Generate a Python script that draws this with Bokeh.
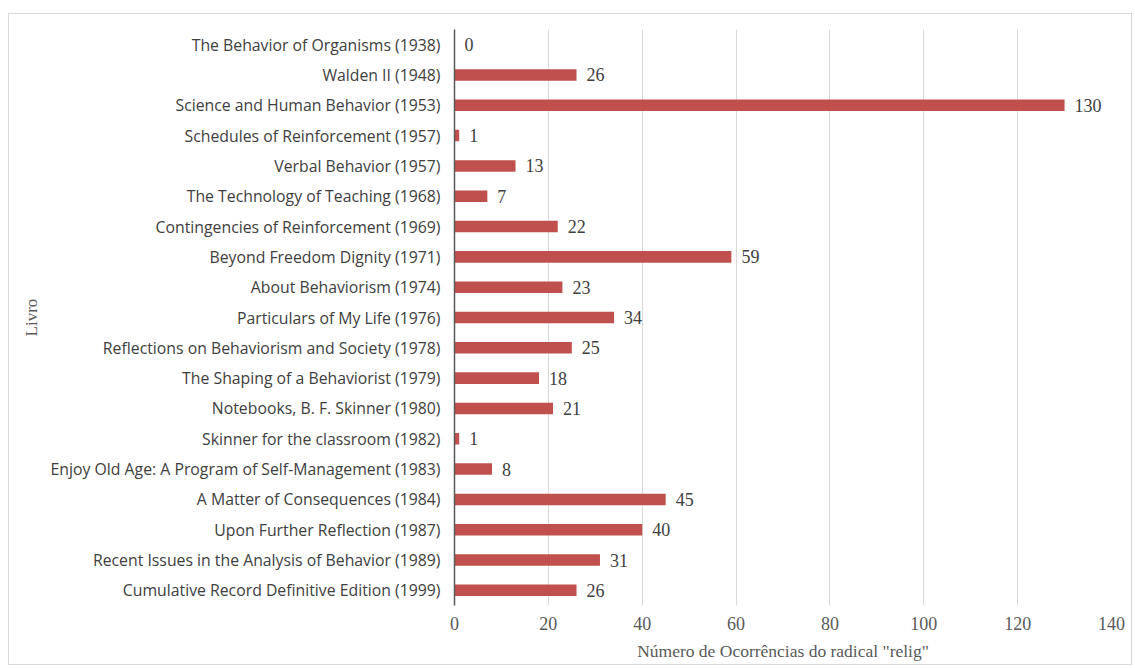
from bokeh.plotting import figure
from bokeh.models import ColumnDataSource, FactorRange, Range1d, FixedTicker
from bokeh.embed import file_html
from bokeh.resources import INLINE

books = [
    "The Behavior of Organisms (1938)",
    "Walden II (1948)",
    "Science and Human Behavior (1953)",
    "Schedules of Reinforcement (1957)",
    "Verbal Behavior (1957)",
    "The Technology of Teaching (1968)",
    "Contingencies of Reinforcement (1969)",
    "Beyond Freedom Dignity (1971)",
    "About Behaviorism (1974)",
    "Particulars of My Life (1976)",
    "Reflections on Behaviorism and Society (1978)",
    "The Shaping of a Behaviorist (1979)",
    "Notebooks, B. F. Skinner (1980)",
    "Skinner for the classroom (1982)",
    "Enjoy Old Age: A Program of Self-Management (1983)",
    "A Matter of Consequences (1984)",
    "Upon Further Reflection (1987)",
    "Recent Issues in the Analysis of Behavior (1989)",
    "Cumulative Record Definitive Edition (1999)",
]
counts = [0, 26, 130, 1, 13, 7, 22, 59, 23, 34, 25, 18, 21, 1, 8, 45, 40, 31, 26]
x_ticks = [0, 20, 40, 60, 80, 100, 120, 140]

src = ColumnDataSource(dict(book=books, count=counts, label=[str(c) for c in counts]))

p = figure(width=1124, height=652, output_backend="svg", toolbar_location=None,
           y_range=FactorRange(factors=list(reversed(books)), range_padding=0),
           x_range=Range1d(0, 140),
           min_border_left=445, min_border_right=22, min_border_top=15, min_border_bottom=61)
p.styles = {"border": "1px solid #d9d9d9", "margin-left": "8px", "margin-top": "13px"}
p.outline_line_color = None

p.hbar(y="book", right="count", left=0, height=0.38, source=src,
       fill_color="#C0504D", line_color=None)
p.text(x="count", y="book", text="label", source=src, x_offset=10,
       text_align="left", text_baseline="middle", text_font_size="18px",
       text_font={"value": "Liberation Serif"}, text_color="#404040")

p.xaxis.ticker = FixedTicker(ticks=x_ticks)
p.xaxis.axis_line_color = None
p.xaxis.major_tick_line_color = None
p.xaxis.minor_tick_line_color = None
p.xaxis.major_label_text_font = "Liberation Serif"
p.xaxis.major_label_text_font_size = "18px"
p.xaxis.major_label_text_color = "#595959"
p.xaxis.major_label_standoff = 5
p.xaxis.axis_label = 'Número de Ocorrências do radical "relig"'
p.xaxis.axis_label_text_font = "Liberation Serif"
p.xaxis.axis_label_text_font_style = "normal"
p.xaxis.axis_label_text_font_size = "17.5px"
p.xaxis.axis_label_text_color = "#595959"
p.xaxis.axis_label_standoff = 8

p.yaxis.axis_line_color = "#595959"
p.yaxis.axis_line_width = 1.5
p.yaxis.major_tick_line_color = None
p.yaxis.minor_tick_line_color = None
p.yaxis.major_label_text_font = "Open Sans"
p.yaxis.major_label_text_font_size = "15.8px"
p.yaxis.major_label_text_color = "#404040"
p.yaxis.major_label_standoff = 8
p.yaxis.axis_label = "Livro"
p.yaxis.axis_label_text_font = "Liberation Serif"
p.yaxis.axis_label_text_font_style = "normal"
p.yaxis.axis_label_text_font_size = "17px"
p.yaxis.axis_label_text_color = "#595959"
p.yaxis.axis_label_standoff = 7

p.xgrid.grid_line_color = "#d9d9d9"
p.ygrid.grid_line_color = None

open("out.html", "w").write(file_html(p, INLINE))
